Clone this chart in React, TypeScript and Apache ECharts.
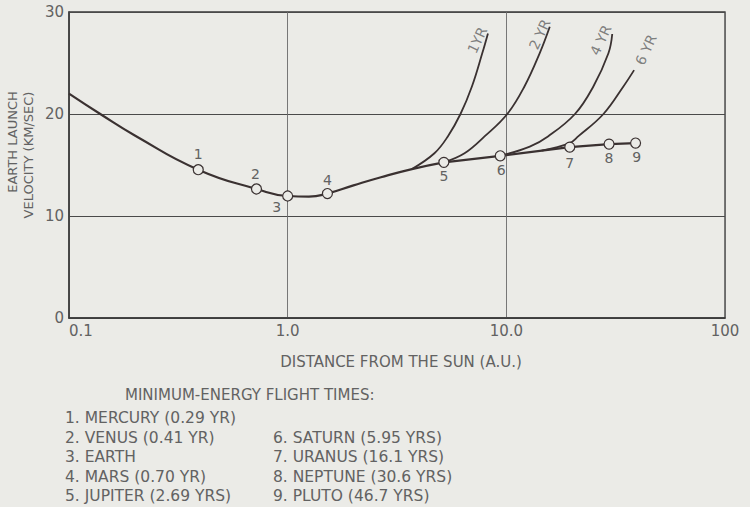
import React, { useEffect, useRef } from "react";
import * as echarts from "echarts";

// ---- data ----
const xTickLabels = ["0.1", "1.0", "10.0", "100"];
const yTicks = [0, 10, 20, 30];

// minimum-energy trajectory curve (smooth inner part, straight outer part)
const innerDist = [0.1, 0.139, 0.2, 0.39, 0.72, 1.0, 1.25, 1.52, 2.0, 2.67, 3.7, 5.18];
const innerVel = [22.0, 20.0, 17.9, 14.54, 12.65, 11.96, 11.9, 12.2, 13.0, 13.8, 14.6, 15.26];
const outerDist = [5.18, 9.38, 19.5, 29.5, 39];
const outerVel = [15.26, 15.9, 16.75, 17.05, 17.15];

// planets
const planetNums = ["1", "2", "3", "4", "5", "6", "7", "8", "9"];
const planetDist = [0.39, 0.72, 1.0, 1.52, 5.18, 9.38, 19.5, 29.5, 39];
const planetVel = [14.54, 12.65, 11.96, 12.2, 15.26, 15.9, 16.75, 17.05, 17.15];

// fixed flight-time curves
const yr1Dist = [3.7, 4.69, 5.4, 6.17, 6.96, 7.76, 8.24];
const yr1Vel = [14.6, 16.15, 17.8, 20.0, 22.7, 25.95, 27.9];
const yr2Dist = [5.18, 6.44, 7.95, 10.1, 12.1, 14.2, 15.8];
const yr2Vel = [15.26, 16.15, 17.8, 20.0, 22.7, 25.95, 28.56];
const yr4Dist = [9.38, 12.8, 15.5, 20.6, 25.0, 29.3, 30.5];
const yr4Vel = [15.9, 16.8, 17.8, 20.0, 22.7, 25.95, 27.84];
const yr6Dist = [14.5, 19.5, 21.3, 27.8, 34.3, 38.4];
const yr6Vel = [16.4, 17.15, 17.8, 20.0, 22.7, 24.3];

const curveNames = ["1YR", "2 YR", "4 YR", "6 YR"];
const curveLabelDist = [7.36, 14.2, 27.0, 43.5];
const curveLabelVel = [27.25, 27.8, 27.25, 26.3];

const legendTitle = "MINIMUM-ENERGY FLIGHT TIMES:";
const legendLeft = [
  "1. MERCURY (0.29 YR)",
  "2. VENUS (0.41 YR)",
  "3. EARTH",
  "4. MARS (0.70 YR)",
  "5. JUPITER (2.69 YRS)",
];
const legendRight = [
  "6. SATURN (5.95 YRS)",
  "7. URANUS (16.1 YRS)",
  "8. NEPTUNE (30.6 YRS)",
  "9. PLUTO (46.7 YRS)",
];

// ---- styles ----
const BG = "#ebebe7";
const INK = "#3a3131";
const TEXT = "#626262";
const FONT = "DejaVu Sans";
const planetLabelOffsets = [
  [0, -16], [-1, -15], [-11, 11], [0, -14], [0, 14], [1, 14], [0, 16], [0, 14], [1, 14],
];

const zip = (a: number[], b: number[]) => a.map((v, i) => [v, b[i]]);

export default function App() {
  const ref = useRef<HTMLDivElement>(null);

  useEffect(() => {
    if (!ref.current) return;
    const chart = echarts.init(ref.current, undefined, { renderer: "svg" });

    const curve = (name: string, d: number[], v: number[], width: number, smooth: number, z = 3) => ({
      name,
      type: "line",
      data: zip(d, v),
      smooth,
      showSymbol: false,
      symbol: "none",
      lineStyle: { color: INK, width },
      z,
    });

    const textStyle = (size: number, extra: any = {}) => ({
      fill: TEXT,
      font: `${size}px ${FONT}`,
      textVerticalAlign: "middle",
      ...extra,
    });

    const legendGraphics: any[] = [
      { type: "text", x: 125, y: 395, style: { text: legendTitle, ...textStyle(15) } },
      ...legendLeft.map((t, i) => ({
        type: "text",
        x: 65,
        y: 418 + i * 19.5,
        style: { text: t, ...textStyle(15.5) },
      })),
      ...legendRight.map((t, i) => ({
        type: "text",
        x: 273,
        y: 418 + (i + 1) * 19.5,
        style: { text: t, ...textStyle(15.5) },
      })),
      {
        type: "text",
        x: 401,
        y: 362,
        style: { text: "DISTANCE FROM THE SUN (A.U.)", ...textStyle(15, { textAlign: "center" }) },
      },
      {
        type: "text",
        x: 12,
        y: 142,
        rotation: Math.PI / 2,
        style: { text: "EARTH LAUNCH", ...textStyle(13, { textAlign: "center" }) },
      },
      {
        type: "text",
        x: 28,
        y: 155,
        rotation: Math.PI / 2,
        style: { text: "VELOCITY (KM/SEC)", ...textStyle(13, { textAlign: "center" }) },
      },
    ];

    chart.setOption({
      animation: false,
      backgroundColor: BG,
      grid: {
        left: 69,
        right: 25,
        top: 12,
        bottom: 189,
        show: true,
        borderColor: "#3a3a3a",
        borderWidth: 1.3,
        backgroundColor: "transparent",
      },
      xAxis: {
        type: "log",
        logBase: 10,
        min: 0.1,
        max: 100,
        axisLine: { show: true, lineStyle: { color: "#3a3a3a", width: 1.5 } },
        axisTick: { show: false },
        minorTick: { show: false },
        splitLine: { show: true, lineStyle: { color: "#6a6a6a", width: 0.9 } },
        axisLabel: {
          formatter: (_v: number, idx: number) => xTickLabels[idx] ?? "",
          color: TEXT,
          fontFamily: FONT,
          fontSize: 15,
          margin: 5,
          alignMinLabel: "left",
        },
      },
      yAxis: {
        type: "value",
        min: yTicks[0],
        max: yTicks[yTicks.length - 1],
        interval: 10,
        axisLine: { show: true, lineStyle: { color: "#3a3a3a", width: 1.5 } },
        axisTick: { show: false },
        splitLine: { show: true, lineStyle: { color: "#4a4a4a", width: 1.1 } },
        axisLabel: { color: TEXT, fontFamily: FONT, fontSize: 15, margin: 5 },
      },
      series: [
        curve("inner", innerDist, innerVel, 2.2, 0.5, 4),
        curve("outer", outerDist, outerVel, 2.2, 0, 4),
        curve("1 YR", yr1Dist, yr1Vel, 1.8, 0.4),
        curve("2 YR", yr2Dist, yr2Vel, 1.8, 0.4),
        curve("4 YR", yr4Dist, yr4Vel, 1.8, 0.4),
        curve("6 YR", yr6Dist, yr6Vel, 1.8, 0.4),
        {
          name: "planets",
          type: "scatter",
          symbol: "circle",
          symbolSize: 10,
          itemStyle: { color: BG, borderColor: INK, borderWidth: 1.2, opacity: 1 },
          z: 6,
          data: planetDist.map((d, i) => ({
            value: [d, planetVel[i]],
            label: {
              show: true,
              formatter: planetNums[i],
              position: "inside",
              offset: planetLabelOffsets[i],
              color: TEXT,
              fontFamily: FONT,
              fontSize: 14,
            },
          })),
        },
        {
          name: "curveLabels",
          type: "scatter",
          symbolSize: 1,
          itemStyle: { color: "rgba(0,0,0,0)" },
          z: 7,
          data: curveNames.map((n, i) => ({
            value: [curveLabelDist[i], curveLabelVel[i]],
            label: {
              show: true,
              formatter: n,
              position: "inside",
              rotate: 65,
              color: TEXT,
              fontFamily: FONT,
              fontSize: 14,
            },
          })),
        },
      ],
      graphic: legendGraphics,
    });

    return () => chart.dispose();
  }, []);

  return (
    <div
      ref={ref}
      style={{ position: "fixed", left: 0, top: 0, width: 750, height: 507, background: BG }}
    />
  );
}
